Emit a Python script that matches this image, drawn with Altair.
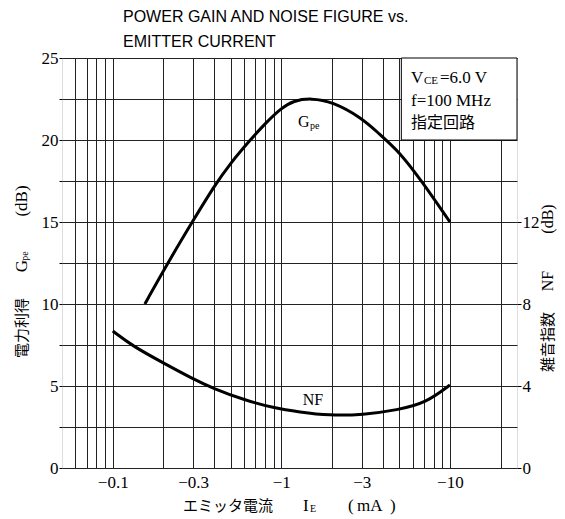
import altair as alt
import pandas as pd

# ---- data ----
gpe_ie = [0.155, 0.212, 0.296, 0.4, 0.5, 0.66, 0.8, 1.0, 1.18, 1.5, 2.0, 3.0, 3.78, 5.0, 6.8, 10.0]
gpe_db = [10.0, 12.5, 15.0, 17.2, 18.6, 20.05, 21.0, 21.95, 22.4, 22.55, 22.35, 21.35, 20.4, 19.3, 17.5, 15.0]

nf_ie = [0.1, 0.131, 0.2, 0.3, 0.39, 0.6, 0.9, 1.28, 1.92, 3.04, 4.9, 7.2, 10.0]
nf_db = [6.68, 5.95, 5.12, 4.34, 3.9, 3.32, 2.93, 2.73, 2.56, 2.59, 2.83, 3.17, 4.05]

x_grid = [0.06, 0.07, 0.08, 0.09, 0.1, 0.2, 0.3, 0.4, 0.5, 0.6, 0.7, 0.8, 0.9,
          1, 2, 3, 4, 5, 6, 7, 8, 9, 10, 20]
x_labels = [0.1, 0.3, 1, 3, 10]
y_left_grid = [0, 2.5, 5, 7.5, 10, 12.5, 15, 17.5, 20, 22.5, 25]
y_right_ticks = [0, 4, 8, 12]

title_lines = ["POWER GAIN AND NOISE FIGURE vs.", "EMITTER CURRENT"]
cond_lines = ["=6.0  V", "f=100  MHz", "指定回路"]

SERIF = "Liberation Serif"
JP = "Noto Sans CJK JP"

gpe_df = pd.DataFrame({"ie": gpe_ie, "g": gpe_db})
nf_df = pd.DataFrame({"ie": nf_ie, "nf": nf_db})

xscale = alt.Scale(type="log", domain=[0.05, 25], nice=False)

x_axis = alt.Axis(
    values=x_grid, grid=True, ticks=False, domain=False, title=None,
    labelExpr="indexof([0.1,0.3,1,3,10], datum.value) >= 0 ? '−' + datum.label : ''",
    format="~g", labelFont=SERIF, labelFontSize=17, labelColor="black",
    labelPadding=6, labelFlush=False, labelOverlap=False,
    gridColor="#222", gridWidth=1, gridOpacity=1,
)

y_left_axis = alt.Axis(
    values=y_left_grid, grid=True, title=None, domain=False,
    labelExpr="datum.value % 5 == 0 ? datum.label : ''",
    labelFont=SERIF, labelFontSize=17, labelColor="black", labelPadding=1,
    tickSize=3, tickColor="black", labelOverlap=False,
    gridColor="#222", gridWidth=1, gridOpacity=1,
)

y_right_axis = alt.Axis(
    orient="right", values=y_right_ticks, grid=False, title=None, domain=False,
    labelFont=SERIF, labelFontSize=17, labelColor="black", labelPadding=1,
    tickSize=4, tickColor="black",
)

ly = alt.Scale(domain=[0, 25], nice=False)

# inset box (data coordinates)
box_df = pd.DataFrame({"x1": [5.15], "x2": [25], "y1": [20], "y2": [25]})
box = alt.Chart(box_df).mark_rect(fill="white", stroke="black", strokeWidth=1).encode(
    x=alt.X("x1:Q", scale=xscale, axis=x_axis),
    x2="x2:Q",
    y=alt.Y("y1:Q", scale=ly, axis=y_left_axis),
    y2="y2:Q",
)

gpe_line = alt.Chart(gpe_df).mark_line(color="black", strokeWidth=3, interpolate="basis").encode(
    x=alt.X("ie:Q", scale=xscale, axis=x_axis),
    y=alt.Y("g:Q", scale=ly, axis=y_left_axis),
)

nf_line = alt.Chart(nf_df).mark_line(color="black", strokeWidth=3, interpolate="basis").encode(
    x=alt.X("ie:Q", scale=xscale, axis=x_axis),
    y=alt.Y("nf:Q", scale=alt.Scale(domain=[0, 20], nice=False), axis=y_right_axis),
)

def txt(text, x, y, size=15, font=SERIF, angle=0, align="left", baseline="middle", weight="normal"):
    return alt.Chart(pd.DataFrame({"t": [text]})).mark_text(
        font=font, fontSize=size, angle=angle, align=align, baseline=baseline,
        color="black", fontWeight=weight,
    ).encode(text="t:N", x=alt.value(x), y=alt.value(y))

# plot origin on page: (62, 58)
ox, oy = 62, 58
def P(px, py):
    return px - ox, py - oy

annots = []
# title
annots.append(txt(title_lines[0], *P(123, 21.5), size=16, font="Liberation Sans", baseline="alphabetic"))
annots.append(txt(title_lines[1], *P(123, 46.5), size=16, font="Liberation Sans", baseline="alphabetic"))
# inset text
annots.append(txt("V", *P(411, 78), size=17))
annots.append(txt("CE", *P(424, 81), size=11))
annots.append(txt(cond_lines[0], *P(440, 78), size=17))
annots.append(txt(cond_lines[1], *P(411, 101), size=17))
annots.append(txt(cond_lines[2], *P(411, 123), size=16, font=JP))
# curve labels
annots.append(txt("G", *P(298, 122), size=16))
annots.append(txt("pe", *P(310, 126), size=10))
annots.append(txt("NF", *P(313, 400), size=16, align="center"))
# x title
annots.append(txt("エミッタ電流", *P(183, 506), size=15, font=JP))
annots.append(txt("I", *P(303, 506), size=17))
annots.append(txt("E", *P(310, 509), size=10))
annots.append(txt("(", *P(348, 506), size=17))
annots.append(txt("mA", *P(357, 506), size=17))
annots.append(txt(")", *P(390, 506), size=17))
# left y title (rotated, reading upward)
annots.append(txt("電力利得", *P(22, 328), size=15, font=JP, angle=270, align="center"))
annots.append(txt("G", *P(22, 266), size=17, angle=270, align="center"))
annots.append(txt("pe", *P(25, 256), size=10, angle=270, align="center"))
annots.append(txt("(dB)", *P(22, 201), size=17, angle=270, align="center"))
# right y title
annots.append(txt("雑音指数", *P(548, 342), size=15, font=JP, angle=270, align="center"))
annots.append(txt("NF", *P(548, 281), size=16, angle=270, align="center"))
annots.append(txt("(dB)", *P(548, 219), size=16, angle=270, align="center"))

left = alt.layer(box, gpe_line, *annots)
chart = alt.layer(left, nf_line).resolve_scale(y="independent").properties(
    width=455, height=410,
    autosize=alt.AutoSizeParams(type="none"),
    padding={"left": 54, "top": 50, "right": 40, "bottom": 50},
).configure_view(stroke="black", strokeWidth=2.5).configure(background="white")

chart.save("out.html", embed_options={"renderer": "svg", "actions": False})
